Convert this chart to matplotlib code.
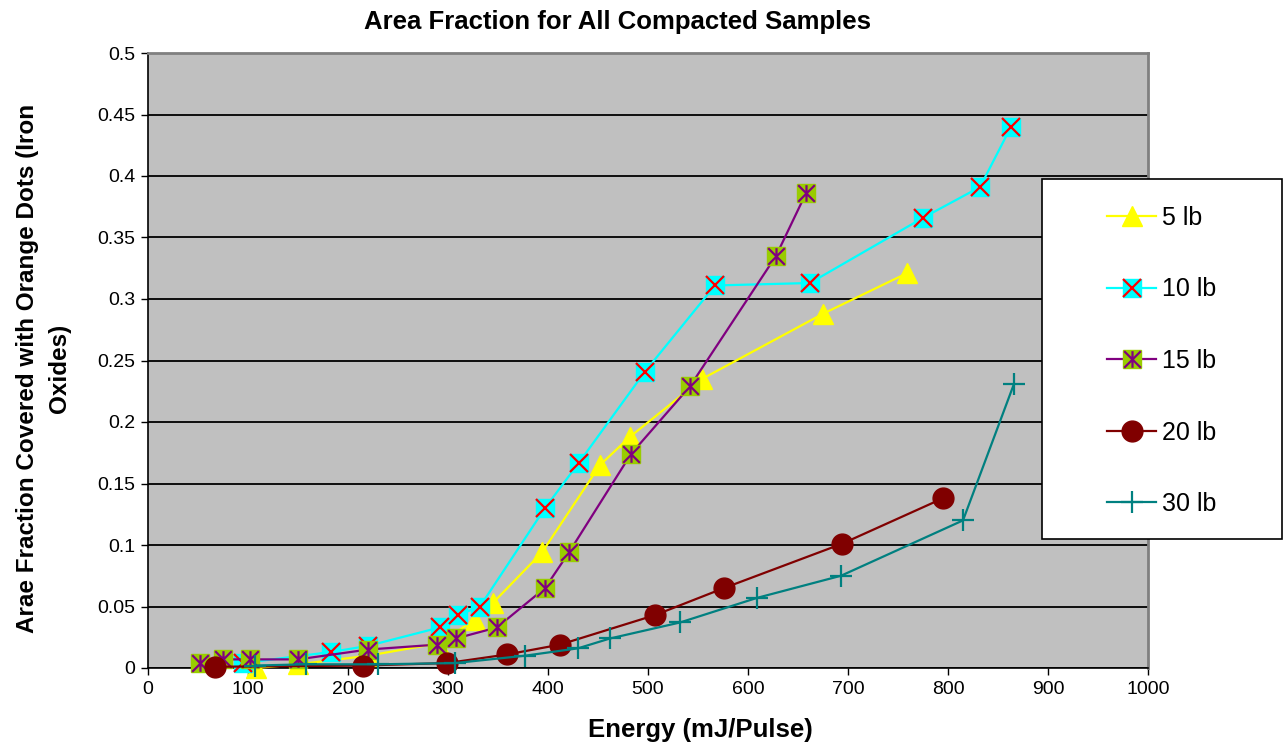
import matplotlib
matplotlib.use("Agg")
import matplotlib.pyplot as plt
from matplotlib.patches import Rectangle
from matplotlib.path import Path
from matplotlib.ticker import FuncFormatter

# Energy (mJ/Pulse) and area fraction for each compaction load
e_5 = [108, 150, 220, 290, 327, 345, 394, 452, 482, 554, 675, 759]
a_5 = [0.000, 0.003, 0.010, 0.020, 0.039, 0.053, 0.094, 0.165, 0.188, 0.235, 0.288, 0.321]

e_10 = [95, 183, 220, 292, 310, 332, 397, 431, 497, 567, 662, 775, 832, 863]
a_10 = [0.004, 0.013, 0.018, 0.033, 0.043, 0.050, 0.130, 0.167, 0.241, 0.311, 0.313, 0.366, 0.391, 0.440]

e_15 = [52, 75, 102, 150, 220, 289, 308, 349, 397, 421, 483, 542, 628, 658]
a_15 = [0.004, 0.007, 0.007, 0.007, 0.015, 0.019, 0.024, 0.033, 0.065, 0.094, 0.174, 0.229, 0.335, 0.386]

e_20 = [67, 215, 299, 359, 412, 507, 576, 694, 795]
a_20 = [0.001, 0.002, 0.004, 0.011, 0.019, 0.043, 0.065, 0.101, 0.138]

e_30 = [107, 158, 230, 307, 377, 430, 462, 532, 609, 693, 815, 866]
a_30 = [0.002, 0.003, 0.003, 0.004, 0.010, 0.016, 0.024, 0.037, 0.057, 0.075, 0.120, 0.231]

labels = ["5 lb", "10 lb", "15 lb", "20 lb", "30 lb"]

# Excel style star: vertical bar plus two diagonals
STAR = Path([(0, -1), (0, 1), (-1, -1), (1, 1), (-1, 1), (1, -1)],
            [Path.MOVETO, Path.LINETO, Path.MOVETO, Path.LINETO,
             Path.MOVETO, Path.LINETO])

plt.rcParams['font.family'] = ['Liberation Sans', 'DejaVu Sans']

fig = plt.figure(figsize=(12.83, 7.45), dpi=100)
ax = fig.add_axes([148 / 1283, 1 - 668 / 745, 1000 / 1283, 615 / 745])
ax.set_facecolor('#C0C0C0')

lw = 1.6
h5, = ax.plot(e_5, a_5, color='#FFFF00', lw=lw, marker='^', ms=14,
              mfc='#FFFF00', mec='#FFFF00', clip_on=False, zorder=3)

h10a, = ax.plot(e_10, a_10, color='#00FFFF', lw=lw, marker='s', ms=13,
                mfc='#00FFFF', mec='#00FFFF', clip_on=False, zorder=4)
h10b, = ax.plot(e_10, a_10, ls='none', marker='x', ms=13, mew=1.6,
                color='#FF0000', clip_on=False, zorder=4)

h15a, = ax.plot(e_15, a_15, color='#800080', lw=lw, marker='s', ms=13,
                mfc='#99CC00', mec='#99CC00', clip_on=False, zorder=5)
h15b, = ax.plot(e_15, a_15, ls='none', marker=STAR, ms=12, mew=1.6,
                color='#800080', clip_on=False, zorder=5)

h20, = ax.plot(e_20, a_20, color='#800000', lw=lw, marker='o', ms=15,
               mfc='#800000', mec='#800000', clip_on=False, zorder=6)

h30, = ax.plot(e_30, a_30, color='#008080', lw=lw, marker='+', ms=16,
               mew=1.6, clip_on=False, zorder=7)

ax.set_xlim(0, 1000)
ax.set_ylim(0, 0.5)
ax.set_xticks(range(0, 1001, 100))
ax.set_yticks([i * 0.05 for i in range(11)])
ax.yaxis.set_major_formatter(FuncFormatter(lambda v, p: f"{v:.2f}".rstrip('0').rstrip('.')))
ax.tick_params(direction='out', length=5, width=1, labelsize=14, pad=4)
ax.yaxis.grid(True, color='black', lw=1.3)
ax.set_axisbelow(True)
for s in ['top', 'right']:
    ax.spines[s].set_color('#808080')
    ax.spines[s].set_linewidth(2)
for s in ['left', 'bottom']:
    ax.spines[s].set_color('black')
    ax.spines[s].set_linewidth(1.2)

fig.text(617 / 1283, 1 - 22 / 745, "Area Fraction for All Compacted Samples",
         ha='center', va='center', fontsize=18.5, fontweight='bold')
fig.text(700 / 1283, 1 - 730 / 745, "Energy (mJ/Pulse)",
         ha='center', va='center', fontsize=18.5, fontweight='bold')
fig.text(44 / 1283, 1 - 368 / 745,
         "Arae Fraction Covered with Orange Dots (Iron\nOxides)",
         ha='center', va='center', rotation=90, fontsize=17.5,
         fontweight='bold', linespacing=1.5)

# legend box
box = Rectangle((1042 / 1283, 1 - 539 / 745), 240 / 1283, 360 / 745,
                transform=fig.transFigure, facecolor='white',
                edgecolor='black', lw=1.2, zorder=10)
fig.add_artist(box)
leg = fig.legend([h5, (h10a, h10b), (h15a, h15b), h20, h30], labels,
                 loc='center', bbox_to_anchor=(1162 / 1283, 1 - 361 / 745),
                 frameon=False, fontsize=18, numpoints=1,
                 handlelength=1.95, handletextpad=0.25, labelspacing=1.9)
leg.set_zorder(11)

fig.savefig("out.png", dpi=100)
